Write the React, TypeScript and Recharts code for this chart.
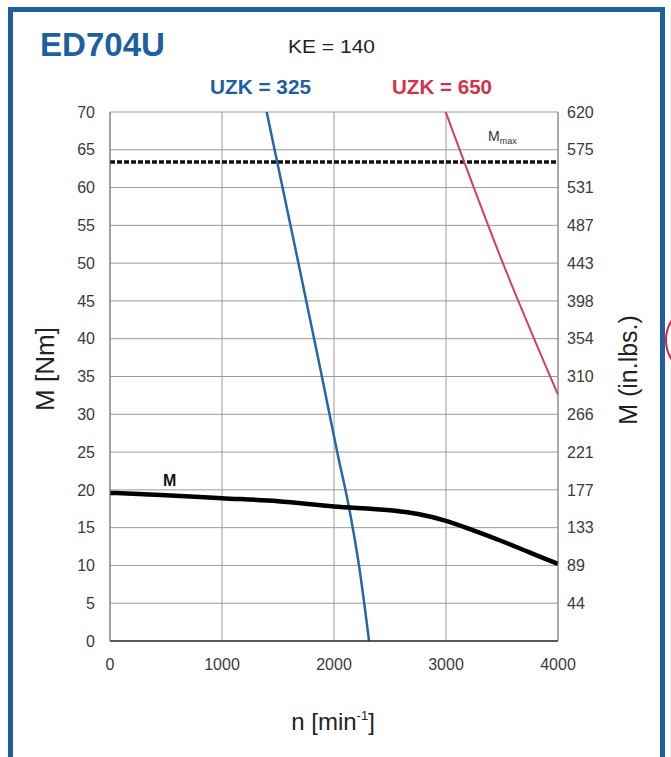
import { LineChart, Line, XAxis, YAxis, CartesianGrid, ReferenceLine } from "recharts";

// M curve (torque vs speed)
const SPEED_M = [0, 500, 1000, 1500, 2000, 2500, 2750, 3000, 3250, 3500, 3750, 4000];
const TORQUE_M = [19.6, 19.3, 18.9, 18.5, 17.8, 17.3, 16.8, 15.9, 14.6, 13.2, 11.7, 10.2];

// UZK = 325 limit
const SPEED_325 = [1399, 1640, 1881, 2030, 2135, 2225, 2313];
const TORQUE_325 = [70, 53, 35.8, 24.9, 17.6, 9.8, 0];

// UZK = 650 limit
const SPEED_650 = [2997, 3500, 4000];
const TORQUE_650 = [70, 50.3, 32.6];

const M_MAX = 63.4;

const X_TICKS = [0, 1000, 2000, 3000, 4000];
const Y_TICKS = [0, 5, 10, 15, 20, 25, 30, 35, 40, 45, 50, 55, 60, 65, 70];
const RIGHT_TICKS = [5, 10, 15, 20, 25, 30, 35, 40, 45, 50, 55, 60, 65, 70];
const RIGHT_LABELS = ["44", "89", "133", "177", "221", "266", "310", "354", "398", "443", "487", "531", "575", "620"];
const X_MINOR = [200, 400, 600, 800, 1200, 1400, 1600, 1800, 2200, 2400, 2600, 2800, 3200, 3400, 3600, 3800];
const Y_MINOR = Array.from({ length: 71 }, (_, i) => i);

const FONT = '"Liberation Sans", Arial, sans-serif';
const BLUE = "#1d5f9f";
const RED = "#d9304a";

const toRows = (xs: number[], ys: number[]) => xs.map((n, i) => ({ n, m: ys[i] }));

export default function App() {
  const mData = toRows(SPEED_M, TORQUE_M);
  const d325 = toRows(SPEED_325, TORQUE_325);
  const d650 = toRows(SPEED_650, TORQUE_650);
  const tickStyle = { fontSize: 16, fill: "#3a3a3a", fontFamily: FONT };

  return (
    <div style={{ position: "absolute", left: 0, top: 0, width: 671, height: 757, overflow: "hidden", background: "#fff" }}>
      <div
        style={{
          position: "absolute",
          left: 8,
          top: 7,
          width: 657,
          height: 800,
          boxSizing: "border-box",
          border: `5px solid ${BLUE}`,
        }}
      />
      <svg width={671} height={757} style={{ position: "absolute", left: 0, top: 0 }}>
        <circle cx={702} cy={340} r={36} fill="none" stroke="#e0202a" strokeWidth={2} />
      </svg>
      <div style={{ position: "absolute", left: 0, top: 0 }}>
        <LineChart width={671} height={757} margin={{ top: 112, right: 53, bottom: 86, left: 46 }}>
          <CartesianGrid xAxisId="main" yAxisId="main" stroke="#9a9a9a" strokeWidth={1} />
          {/* minor tick axes: id 0 sits right against the plot */}
          <XAxis
            xAxisId={0}
            type="number"
            dataKey="n"
            domain={[0, 4000]}
            ticks={X_MINOR}
            height={5}
            tick={false}
            axisLine={{ stroke: "#333", strokeWidth: 1.5 }}
            tickSize={4}
            tickLine={{ stroke: "#666" }}
          />
          <YAxis
            yAxisId={0}
            type="number"
            domain={[0, 70]}
            ticks={Y_MINOR}
            width={4}
            tick={false}
            axisLine={{ stroke: "#777" }}
            tickSize={3}
            tickLine={{ stroke: "#777" }}
          />
          <XAxis
            xAxisId="main"
            type="number"
            dataKey="n"
            domain={[0, 4000]}
            ticks={X_TICKS}
            height={25}
            tickLine={false}
            tickSize={0}
            tickMargin={13}
            axisLine={false}
            tick={tickStyle}
          />
          <YAxis
            yAxisId="main"
            type="number"
            domain={[0, 70]}
            ticks={Y_TICKS}
            width={60}
            tickLine={false}
            tickSize={0}
            tickMargin={11}
            axisLine={false}
            tick={tickStyle}
          />
          <YAxis
            yAxisId="right"
            orientation="right"
            type="number"
            domain={[0, 70]}
            ticks={RIGHT_TICKS}
            width={60}
            tickLine={false}
            tickSize={0}
            tickMargin={9}
            axisLine={{ stroke: "#888" }}
            tick={tickStyle}
            tickFormatter={(v: number) => RIGHT_LABELS[RIGHT_TICKS.indexOf(v)] ?? ""}
          />
          <ReferenceLine xAxisId="main" yAxisId="main" y={M_MAX} stroke="#111" strokeWidth={3.5} strokeDasharray="5 2" />
          {/* invisible series so the secondary axes are drawn */}
          <Line data={mData} dataKey="m" xAxisId={0} yAxisId={0} stroke="none" dot={false} activeDot={false} isAnimationActive={false} />
          <Line data={mData} dataKey="m" xAxisId="main" yAxisId="right" stroke="none" dot={false} activeDot={false} isAnimationActive={false} />
          <Line data={d325} dataKey="m" xAxisId="main" yAxisId="main" type="monotone" stroke="#2368a8" strokeWidth={2.5} dot={false} isAnimationActive={false} />
          <Line data={d650} dataKey="m" xAxisId="main" yAxisId="main" type="monotone" stroke="#d2405e" strokeWidth={2} dot={false} isAnimationActive={false} />
          <Line data={mData} dataKey="m" xAxisId="main" yAxisId="main" type="monotone" stroke="#000" strokeWidth={4.5} dot={false} isAnimationActive={false} />
        </LineChart>
      </div>
      <svg width={671} height={757} style={{ position: "absolute", left: 0, top: 0, pointerEvents: "none" }} fontFamily={FONT}>
        <text x={40} y={56} fontSize={34} fontWeight="bold" fill={BLUE} textLength={125} lengthAdjust="spacingAndGlyphs">
          ED704U
        </text>
        <text x={288} y={53} fontSize={18} fill="#222" textLength={87} lengthAdjust="spacingAndGlyphs">
          KE = 140
        </text>
        <text x={210} y={94} fontSize={20} fontWeight="bold" fill={BLUE} textLength={101} lengthAdjust="spacingAndGlyphs">
          UZK = 325
        </text>
        <text x={392} y={94} fontSize={20} fontWeight="bold" fill={RED} textLength={100} lengthAdjust="spacingAndGlyphs">
          UZK = 650
        </text>
        <text x={163} y={486} fontSize={16} fontWeight="bold" fill="#111">
          M
        </text>
        <text x={488} y={141} fontSize={14} fill="#333">
          M<tspan fontSize={9} dy={3}>max</tspan>
        </text>
        <text x={333} y={730} fontSize={24} fill="#222" textAnchor="middle">
          n [min<tspan fontSize={13} dy={-10}>-1</tspan>
          <tspan dy={10}>]</tspan>
        </text>
        <text transform="translate(54,369) rotate(-90)" fontSize={26} fill="#222" textAnchor="middle">
          M [Nm]
        </text>
        <text transform="translate(637,370) rotate(-90)" fontSize={25} fill="#222" textAnchor="middle">
          M (in.lbs.)
        </text>
      </svg>
    </div>
  );
}
